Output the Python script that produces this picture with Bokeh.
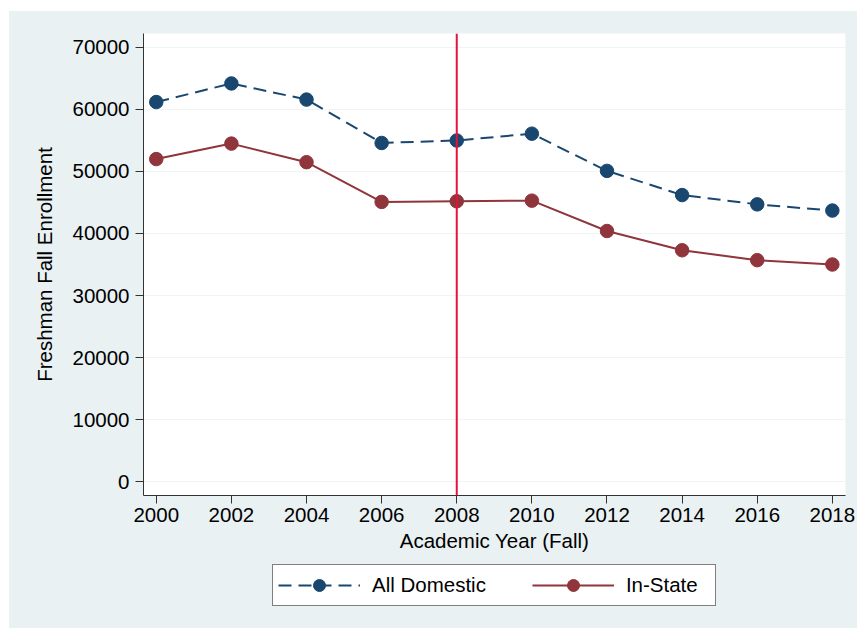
from bokeh.plotting import figure
from bokeh.layouts import column
from bokeh.models import (Span, Legend, LegendItem, FixedTicker, Range1d,
                          NumeralTickFormatter)
from bokeh.embed import file_html
from bokeh.resources import INLINE

# Freshman fall enrollment by academic year (fall term)
years = [2000, 2002, 2004, 2006, 2008, 2010, 2012, 2014, 2016, 2018]
all_domestic = [61200, 64200, 61600, 54600, 55000, 56100, 50100, 46200, 44700, 43700]
in_state = [52000, 54500, 51500, 45100, 45200, 45300, 40400, 37300, 35700, 35000]

x_ticks = [2000, 2002, 2004, 2006, 2008, 2010, 2012, 2014, 2016, 2018]
y_ticks = [0, 10000, 20000, 30000, 40000, 50000, 60000, 70000]
policy_year = 2008
series_names = ["All Domestic", "In-State"]

NAVY = "#1a476f"
MAROON = "#90353b"
RED = "#e4123c"
BG = "#e9f1f3"
FONT = "Liberation Sans"
FS = "20.5px"

p = figure(
    width=848, height=552,
    output_backend="svg", toolbar_location=None,
    x_range=Range1d(1999.66, 2018.35),
    y_range=Range1d(-2258, 72258),
    background_fill_color="white",
    border_fill_color=BG,
    outline_line_color=None,
    min_border_left=134, min_border_top=22,
    min_border_right=12, min_border_bottom=68,
)

# faint horizontal grid, no vertical grid
p.xgrid.grid_line_color = None
p.ygrid.grid_line_color = "#f1f4f5"
p.ygrid.ticker = FixedTicker(ticks=y_ticks)

for ax in (p.xaxis[0], p.yaxis[0]):
    ax.axis_line_color = "#333333"
    ax.axis_line_width = 1
    ax.major_tick_line_color = "#333333"
    ax.major_tick_out = 8
    ax.major_tick_in = 0
    ax.minor_tick_line_color = None
    ax.major_label_text_font = FONT
    ax.major_label_text_font_size = FS
    ax.major_label_text_color = "black"
    ax.axis_label_text_font = FONT
    ax.axis_label_text_font_size = FS
    ax.axis_label_text_font_style = "normal"
    ax.axis_label_text_color = "black"

p.xaxis.ticker = FixedTicker(ticks=x_ticks)
p.yaxis.ticker = FixedTicker(ticks=y_ticks)
p.yaxis.formatter = NumeralTickFormatter(format="0")
p.yaxis.major_label_orientation = "horizontal"
p.xaxis.axis_label = "Academic Year (Fall)"
p.yaxis.axis_label = "Freshman Fall Enrollment"
p.xaxis.major_label_standoff = 4
p.yaxis.major_label_standoff = 6
p.xaxis.axis_label_standoff = 4
p.yaxis.axis_label_standoff = 13

dom_style = dict(line_color=NAVY, line_width=2, line_dash="13 7")
ins_style = dict(line_color=MAROON, line_width=2)
dom_marker = dict(size=13.5, fill_color=NAVY, line_color=NAVY)
ins_marker = dict(size=13.5, fill_color=MAROON, line_color=MAROON)

p.line(years, all_domestic, **dom_style)
p.scatter(years, all_domestic, **dom_marker)
p.line(years, in_state, **ins_style)
p.scatter(years, in_state, **ins_marker)

p.add_layout(Span(location=policy_year, dimension="height",
                  line_color=RED, line_width=2))

# legend strip underneath the chart; its series proxies sit outside the
# strip's own (empty) view so only the legend key is seen
key = figure(
    width=848, height=65,
    output_backend="svg", toolbar_location=None,
    x_axis_location=None, y_axis_location=None,
    x_range=Range1d(0, 1), y_range=Range1d(0, 1),
    background_fill_color=BG, border_fill_color=BG,
    outline_line_color=None,
    min_border=0,
)
key.grid.grid_line_color = None
k_dom_line = key.line(years, all_domestic, **dom_style)
k_dom_pts = key.scatter(years, all_domestic, **dom_marker)
k_ins_line = key.line(years, in_state, **ins_style)
k_ins_pts = key.scatter(years, in_state, **ins_marker)

legend = Legend(
    items=[
        LegendItem(label=series_names[0], renderers=[k_dom_line, k_dom_pts]),
        LegendItem(label=series_names[1], renderers=[k_ins_line, k_ins_pts]),
    ],
    orientation="horizontal",
    location=(129, 22),
    glyph_width=82, glyph_height=30,
    label_height=20,
    label_width=84,
    label_standoff=12,
    spacing=46,
    padding=5,
    margin=0,
    label_text_font=FONT,
    label_text_font_size=FS,
    label_text_color="black",
    border_line_color="black",
    border_line_width=1,
    background_fill_color="white",
    background_fill_alpha=1.0,
)
key.add_layout(legend)

page = column(p, key, spacing=0, margin=(11, 0, 0, 9),
              styles={"background-color": BG})
open("out.html", "w").write(file_html(page, INLINE))
